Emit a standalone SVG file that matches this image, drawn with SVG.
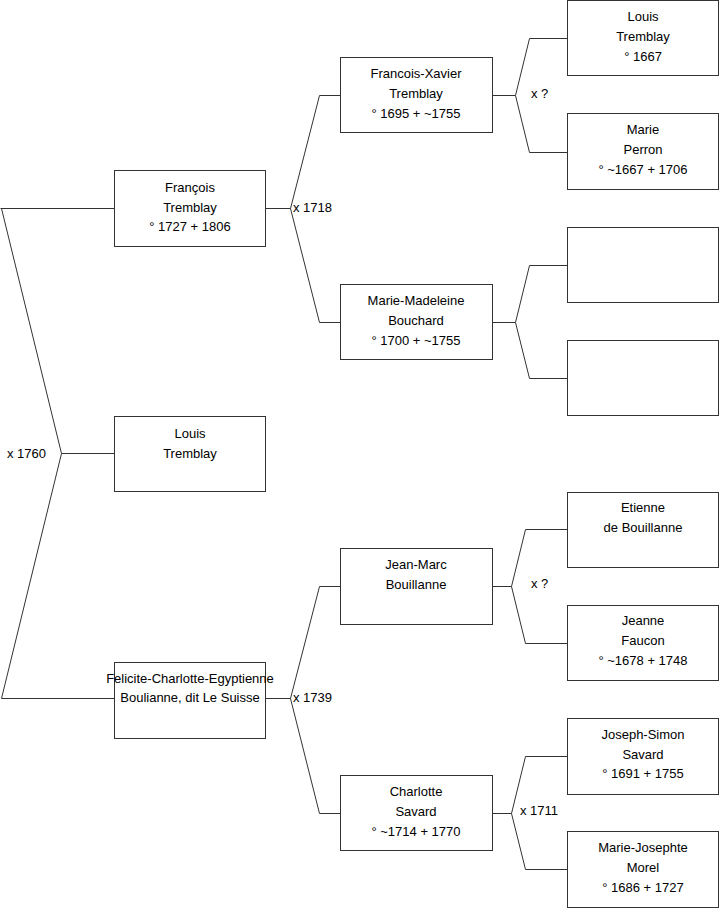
<svg xmlns="http://www.w3.org/2000/svg" width="719" height="908" viewBox="0 0 719 908">
<style>
.box{fill:#fff;stroke:#333;stroke-width:1}
.c{fill:none;stroke:#333;stroke-width:1}
text{font-family:"Liberation Sans",Arial,sans-serif;font-size:13px;fill:#000}
.t{text-anchor:middle}
</style>
<rect width="719" height="908" fill="#fff"/>
<g id="connectors">
<path class="c" d="M0.5,208.5 H114.5 M1.5,208.5 L61.5,453.5 L1.5,698.5 H114.5 M61.5,453.5 H114.5"/>
<path class="c" d="M265.5,208.5 H290.5 M319.5,95.5 L290.5,208.5 L319.5,322.5 M319.5,95.5 H340.5 M319.5,322.5 H340.5"/>
<path class="c" d="M265.5,698.5 H290.5 M319.5,586.5 L290.5,698.5 L319.5,813.5 M319.5,586.5 H340.5 M319.5,813.5 H340.5"/>
<path class="c" d="M492.5,95.5 H515.5 M529.5,38.5 L515.5,95.5 L529.5,152.5 M529.5,38.5 H567.5 M529.5,152.5 H567.5"/>
<path class="c" d="M492.5,322.5 H515.5 M529.5,265.5 L515.5,322.5 L529.5,378.5 M529.5,265.5 H567.5 M529.5,378.5 H567.5"/>
<path class="c" d="M492.5,586.5 H511.5 M525.5,529.5 L511.5,586.5 L525.5,643.5 M525.5,529.5 H567.5 M525.5,643.5 H567.5"/>
<path class="c" d="M492.5,813.5 H511.5 M525.5,756.5 L511.5,813.5 L525.5,869.5 M525.5,756.5 H567.5 M525.5,869.5 H567.5"/>
<text x="7" y="458">x 1760</text>
<text x="293" y="212">x 1718</text>
<text x="293" y="702">x 1739</text>
<text x="531" y="98">x ?</text>
<text x="531" y="588">x ?</text>
<text x="520" y="815">x 1711</text>
</g>
<g id="n-francois">
<rect class="box" x="114.5" y="170.5" width="151" height="76"/>
<text class="t" x="190" y="192">François</text>
<text class="t" x="190" y="212">Tremblay</text>
<text class="t" x="190" y="231">° 1727 + 1806</text>
</g>
<g id="n-louis-tremblay">
<rect class="box" x="114.5" y="416.5" width="151" height="75"/>
<text class="t" x="190" y="438">Louis</text>
<text class="t" x="190" y="458">Tremblay</text>
</g>
<g id="n-felicite">
<rect class="box" x="114.5" y="662.5" width="151" height="76"/>
<text class="t" x="190" y="683">Felicite-Charlotte-Egyptienne</text>
<text class="t" x="190" y="702">Boulianne, dit Le Suisse</text>
</g>
<g id="n-francois-xavier">
<rect class="box" x="340.5" y="57.5" width="152" height="75"/>
<text class="t" x="416" y="78">Francois-Xavier</text>
<text class="t" x="416" y="98">Tremblay</text>
<text class="t" x="416" y="118">° 1695 + ~1755</text>
</g>
<g id="n-marie-madeleine">
<rect class="box" x="340.5" y="284.5" width="152" height="75"/>
<text class="t" x="416" y="305">Marie-Madeleine</text>
<text class="t" x="416" y="325">Bouchard</text>
<text class="t" x="416" y="345">° 1700 + ~1755</text>
</g>
<g id="n-jean-marc">
<rect class="box" x="340.5" y="548.5" width="152" height="76"/>
<text class="t" x="416" y="569">Jean-Marc</text>
<text class="t" x="416" y="589">Bouillanne</text>
</g>
<g id="n-charlotte">
<rect class="box" x="340.5" y="775.5" width="152" height="75"/>
<text class="t" x="416" y="796">Charlotte</text>
<text class="t" x="416" y="816">Savard</text>
<text class="t" x="416" y="836">° ~1714 + 1770</text>
</g>
<g id="n-louis">
<rect class="box" x="567.5" y="0.5" width="151" height="75"/>
<text class="t" x="643" y="21">Louis</text>
<text class="t" x="643" y="41">Tremblay</text>
<text class="t" x="643" y="61">° 1667</text>
</g>
<g id="n-marie-perron">
<rect class="box" x="567.5" y="113.5" width="151" height="76"/>
<text class="t" x="643" y="134">Marie</text>
<text class="t" x="643" y="154">Perron</text>
<text class="t" x="643" y="174">° ~1667 + 1706</text>
</g>
<g id="n-empty1">
<rect class="box" x="567.5" y="227.5" width="151" height="75"/>
</g>
<g id="n-empty2">
<rect class="box" x="567.5" y="340.5" width="151" height="75"/>
</g>
<g id="n-etienne">
<rect class="box" x="567.5" y="492.5" width="151" height="75"/>
<text class="t" x="643" y="512">Etienne</text>
<text class="t" x="643" y="532">de Bouillanne</text>
</g>
<g id="n-jeanne">
<rect class="box" x="567.5" y="605.5" width="151" height="75"/>
<text class="t" x="643" y="625">Jeanne</text>
<text class="t" x="643" y="645">Faucon</text>
<text class="t" x="643" y="665">° ~1678 + 1748</text>
</g>
<g id="n-joseph-simon">
<rect class="box" x="567.5" y="718.5" width="151" height="76"/>
<text class="t" x="643" y="739">Joseph-Simon</text>
<text class="t" x="643" y="759">Savard</text>
<text class="t" x="643" y="778">° 1691 + 1755</text>
</g>
<g id="n-marie-josephte">
<rect class="box" x="567.5" y="831.5" width="151" height="76"/>
<text class="t" x="643" y="852">Marie-Josephte</text>
<text class="t" x="643" y="872">Morel</text>
<text class="t" x="643" y="892">° 1686 + 1727</text>
</g>
</svg>
